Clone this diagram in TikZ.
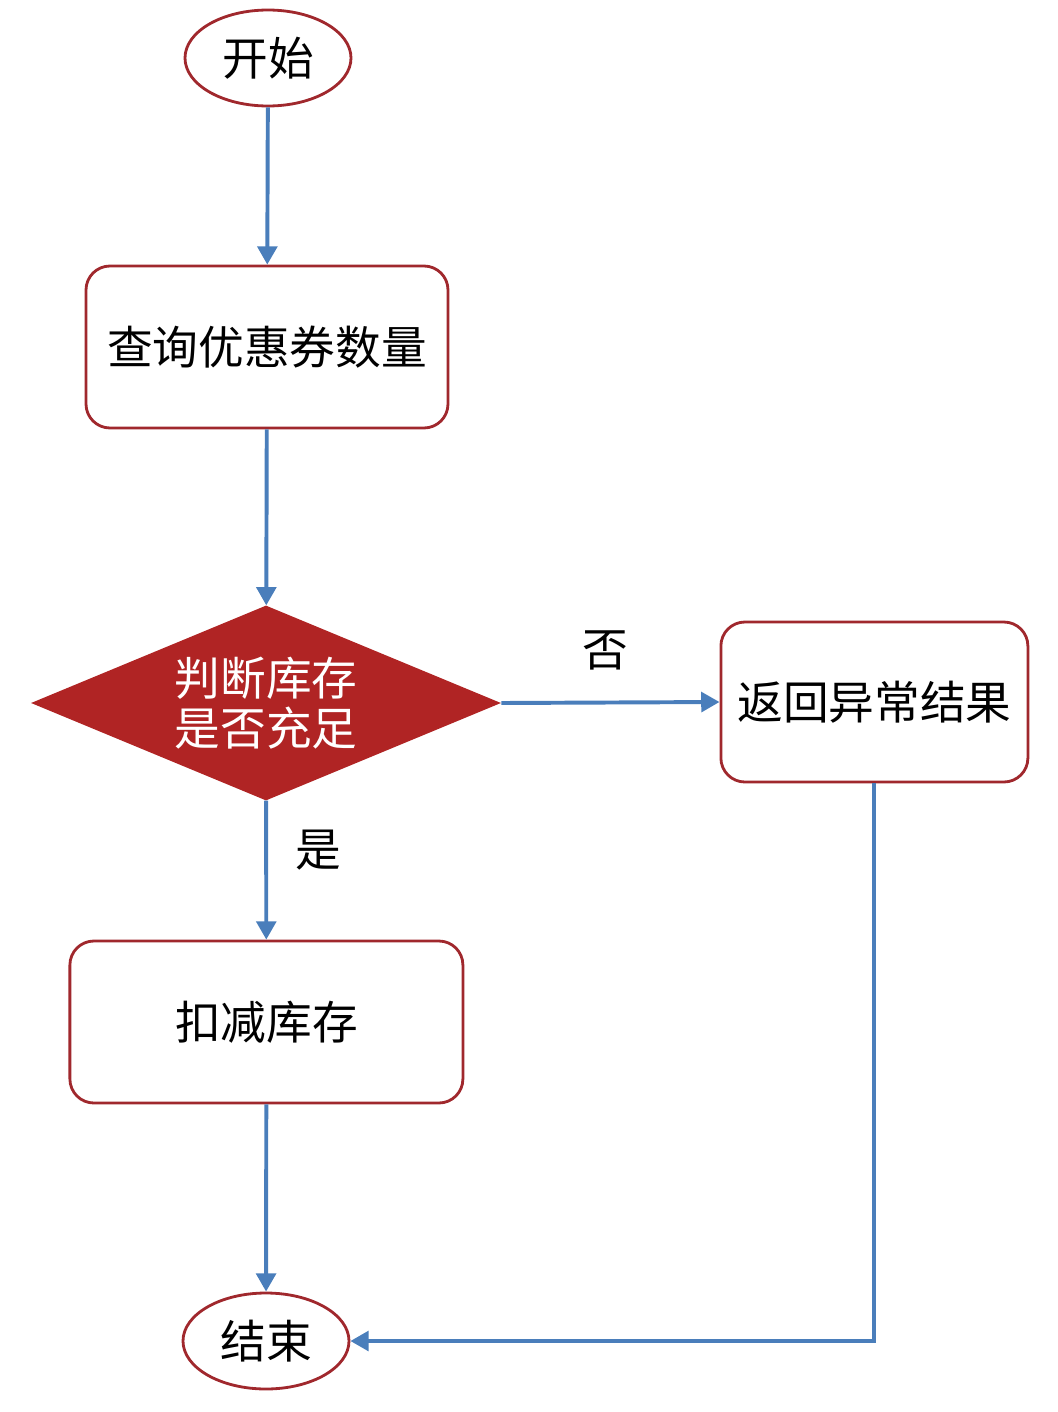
\documentclass[tikz,border=0pt]{standalone}
\usepackage{fontspec}
\setmainfont{Noto Sans CJK SC}
\usetikzlibrary{shapes.geometric,arrows.meta}
\definecolor{edgered}{RGB}{160,40,45}
\definecolor{fillred}{RGB}{176,36,36}
\definecolor{flowblue}{RGB}{74,126,187}
\tikzset{>={Triangle[length=13pt,width=14pt]}}
\tikzset{
    terminal/.style={ellipse,draw=edgered,line width=2pt,inner sep=0pt,
        minimum width=4.15cm,minimum height=2.4cm,font=\fontsize{32.5}{37}\selectfont},
    stepbox/.style={rectangle,rounded corners=0.6cm,draw=edgered,line width=2pt,
        minimum height=4.05cm,font=\fontsize{32.5}{37}\selectfont},
    decision/.style={diamond,shape aspect=2.41,fill=fillred,text=white,inner sep=0pt,
        minimum width=11.75cm,minimum height=4.875cm,align=center,
        font=\fontsize{32.5}{36}\selectfont},
    flow/.style={->,draw=flowblue,line width=2.8pt},
    branch/.style={font=\fontsize{32.5}{37}\selectfont}
}
\begin{document}
\begin{tikzpicture}
    \useasboundingbox (0,0) rectangle (26.45,-35.3);
    \node[terminal] (start) at (6.7,-1.45) {开始};
    \node[stepbox,minimum width=9.05cm] (query) at (6.675,-8.675) {查询优惠券数量};
    \node[decision] (check) at (6.65,-17.575) {判断库存\\是否充足};
    \node[stepbox,minimum width=7.675cm,minimum height=4cm] (fail) at (21.86,-17.55) {返回异常结果};
    \node[stepbox,minimum width=9.825cm] (deduct) at (6.66,-25.55) {扣减库存};
    \node[terminal] (end) at (6.65,-33.525) {结束};
    \node[branch] (no) at (15.125,-16.25) {否};
    \node[branch] (yes) at (7.95,-21.25) {是};
    \draw[flow] (start) -- (query);
    \draw[flow] (query) -- (check);
    \draw[flow] (check.east) -- (fail.west);
    \draw[flow] (check) -- (deduct);
    \draw[flow] (deduct) -- (end);
    \draw[flow] (fail.south) |- (end.east);
\end{tikzpicture}
\end{document}
